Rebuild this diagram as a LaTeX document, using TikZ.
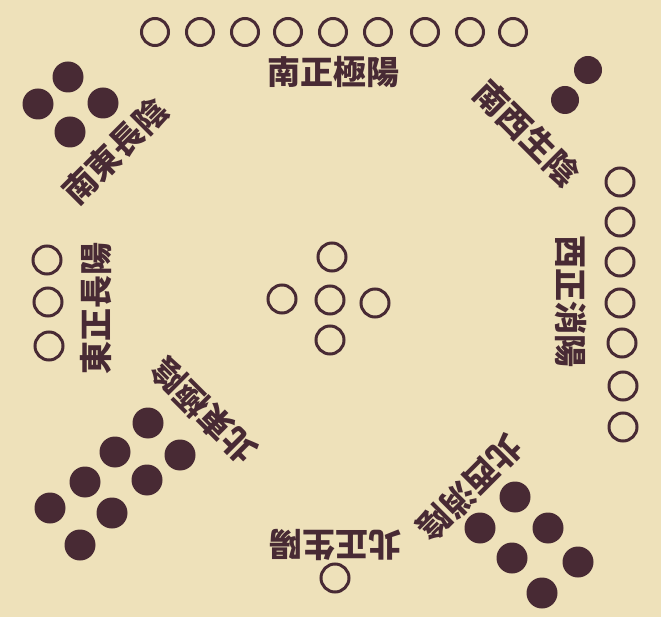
\documentclass[tikz,border=0pt]{standalone}
\usepackage{fontspec}
\newfontfamily\cjk{Noto Sans CJK TC}
\definecolor{paper}{RGB}{238,225,186}
\definecolor{ink}{RGB}{72,42,52}

\begin{document}
\begin{tikzpicture}[x=1pt, y=-1pt,
  open/.style={circle, draw=ink, line width=3pt, minimum size=28pt, inner sep=0pt},
  full/.style={circle, fill=ink, minimum size=31pt, inner sep=0pt},
  word/.style={text=ink, inner sep=0pt, font=\cjk\bfseries\fontsize{33}{33}\selectfont}]

% paper
\fill[paper] (0,0) rectangle (661,617);
\useasboundingbox (0,0) rectangle (661,617);

% south: nine
\node[open, minimum size=27pt] (s1) at (155,32) {}; \node[open, minimum size=27pt] (s2) at (200,32) {};
\node[open, minimum size=27pt] (s3) at (245,32) {}; \node[open, minimum size=27pt] (s4) at (288,32) {};
\node[open, minimum size=27pt] (s5) at (333,32) {}; \node[open, minimum size=27pt] (s6) at (378,32) {};
\node[open, minimum size=27pt] (s7) at (425,32) {}; \node[open, minimum size=27pt] (s8) at (470,32) {};
\node[open, minimum size=27pt] (s9) at (513,32) {};
\node[word] (s) at (333,72) {南正極陽};

% south-west: two
\node[full, minimum size=28pt] (sw1) at (588,70) {}; \node[full, minimum size=28pt] (sw2) at (565,100) {};
\node[word, rotate=-45] (sw) at (527,133) {南西生陰};

% south-east: four
\node[full] (se1) at (68,77) {}; \node[full] (se2) at (38,104) {};
\node[full] (se3) at (103,103) {}; \node[full] (se4) at (70,132) {};
\node[word, rotate=45] (se) at (115,151) {南東長陰};

% east: three
\node[open] (e1) at (47,260) {}; \node[open] (e2) at (48,302) {}; \node[open] (e3) at (49,346) {};
\node[word, rotate=90] (e) at (96,308) {東正長陽};

% centre: five
\node[open] (c1) at (332,257) {}; \node[open] (c2) at (282,299) {}; \node[open] (c3) at (330,300) {};
\node[open] (c4) at (375,303) {}; \node[open] (c5) at (330,340) {};

% west: seven
\node[open] (w1) at (620,182) {}; \node[open] (w2) at (620,222) {}; \node[open] (w3) at (620,262) {};
\node[open] (w4) at (620,303) {}; \node[open] (w5) at (622,343) {}; \node[open] (w6) at (623,386) {};
\node[open] (w7) at (623,427) {};
\node[word, rotate=-90] (w) at (571,302) {西正消陽};

% north-east: eight
\node[full] (ne1) at (148,423) {}; \node[full] (ne2) at (115,452) {};
\node[full] (ne3) at (85,482) {}; \node[full] (ne4) at (50,508) {};
\node[full] (ne5) at (180,455) {}; \node[full] (ne6) at (147,480) {};
\node[full] (ne7) at (112,513) {}; \node[full] (ne8) at (80,545) {};
\node[word, rotate=135] (ne) at (204,411) {北東極陰};

% north-west: six
\node[full] (nw1) at (515,497) {}; \node[full] (nw2) at (480,528) {};
\node[full] (nw3) at (548,528) {}; \node[full] (nw4) at (512,558) {};
\node[full] (nw5) at (578,562) {}; \node[full] (nw6) at (542,593) {};
\node[word, rotate=-135] (nw) at (470,488) {北西消陰};

% north: one
\node[open] (n1) at (335,578) {};
\node[word, rotate=180] (n) at (335,545) {北正生陽};
\end{tikzpicture}
\end{document}
